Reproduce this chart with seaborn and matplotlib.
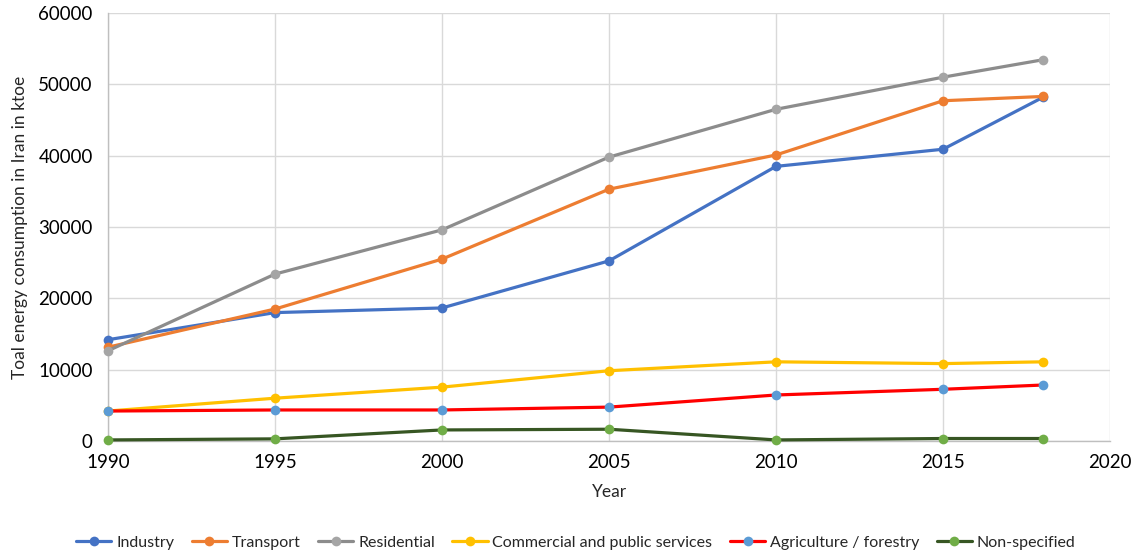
import matplotlib
matplotlib.use("Agg")
import matplotlib.pyplot as plt
import seaborn as sns
import pandas as pd

years = [1990, 1995, 2000, 2005, 2010, 2015, 2018]
industry = [14200, 18000, 18650, 25250, 38500, 40900, 48200]
transport = [13150, 18500, 25500, 35300, 40100, 47700, 48300]
residential = [12650, 23400, 29600, 39800, 46500, 51000, 53450]
commercial = [4200, 6000, 7550, 9850, 11100, 10850, 11100]
agriculture = [4200, 4350, 4350, 4750, 6450, 7250, 7850]
nonspecified = [150, 300, 1550, 1650, 150, 350, 350]

names = ["Industry", "Transport", "Residential", "Commercial and public services",
         "Agriculture / forestry", "Non-specified"]
series = [industry, transport, residential, commercial, agriculture, nonspecified]
line_colors = ["#4472C4", "#ED7D31", "#8C8C8C", "#FFC000", "#FF0000", "#375623"]
marker_colors = ["#4472C4", "#ED7D31", "#A5A5A5", "#FFC000", "#5B9BD5", "#70AD47"]

sns.set_theme(style="white")
plt.rcParams['font.family'] = ['Lato', 'DejaVu Sans']

fig = plt.figure(figsize=(11.32, 5.54), dpi=100)
ax = fig.add_axes([108/1132, 1 - 441/554, (1110-108)/1132, (441-13)/554])

for name, vals, lc, mc in zip(names, series, line_colors, marker_colors):
    df = pd.DataFrame({"Year": years, "Value": vals})
    sns.lineplot(data=df, x="Year", y="Value", ax=ax, color=lc, linewidth=2.3,
                 marker="o", markersize=7, markerfacecolor=mc, markeredgecolor=mc,
                 markeredgewidth=0, label=name, clip_on=False, zorder=3)

ax.set_xlim(1990, 2020)
ax.set_ylim(0, 60000)
ax.set_xticks(range(1990, 2021, 5))
ax.set_yticks(range(0, 60001, 10000))
ax.grid(True, color="#D9D9D9", linewidth=1)
for s in ["top", "right"]:
    ax.spines[s].set_visible(False)
for s in ["left", "bottom"]:
    ax.spines[s].set_color("#BFBFBF")
    ax.spines[s].set_linewidth(1)
ax.tick_params(axis="both", labelsize=13.5, colors="#404040", length=0)
ax.tick_params(axis="x", pad=9)
ax.tick_params(axis="y", pad=11)
for lab in ax.get_xticklabels() + ax.get_yticklabels():
    lab.set_color("#000000")
ax.set_xlabel("Year", fontsize=12.5, labelpad=10)
ax.set_ylabel("Toal energy consumption in Iran in ktoe", fontsize=12.5, labelpad=7)

ax.legend(loc="upper center", bbox_to_anchor=(0.467, -0.188), ncol=6, frameon=False,
          fontsize=11.5, handlelength=2.2, handletextpad=0.3, columnspacing=1.1)

fig.savefig("out.png", dpi=100)
